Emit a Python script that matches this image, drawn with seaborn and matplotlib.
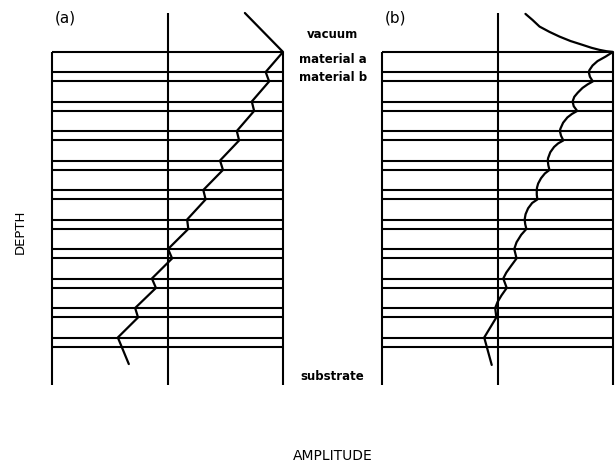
import matplotlib
matplotlib.use("Agg")
import matplotlib.pyplot as plt
import seaborn as sns
import pandas as pd

# Layer boundaries (depth in units of the bilayer period, surface at 0)
interfaces = [0.0, 0.68, 1.0, 1.68, 2.0, 2.68, 3.0, 3.68, 4.0, 4.68, 5.0,
              5.68, 6.0, 6.68, 7.0, 7.68, 8.0, 8.68, 9.0, 9.68, 10.0]

# (a) field amplitude, straight segments within each layer
depth_a = [-1.32, 0.0, 0.68, 1.0, 1.68, 2.0, 2.68, 3.0, 3.68, 4.0, 4.68, 5.0,
           5.68, 6.0, 6.68, 7.0, 7.68, 8.0, 8.68, 9.0, 9.68, 10.58]
amp_a = [0.67, 1.0, 0.85, 0.88, 0.73, 0.75, 0.60, 0.62, 0.455, 0.48, 0.31, 0.33,
         0.17, 0.18, 0.005, 0.04, -0.135, -0.10, -0.28, -0.255, -0.43, -0.335]

# (b) field amplitude, curved within each layer
depth_b = [-1.29, -1.085, -0.86, -0.68, -0.52, -0.37, -0.24, -0.14, -0.07, -0.024, 0.0,
           0.16, 0.31, 0.46, 0.61, 0.68, 0.84, 1.0,
           1.1, 1.22, 1.38, 1.52, 1.68, 1.84, 2.0,
           2.1, 2.22, 2.4, 2.6, 2.68, 2.84, 3.0,
           3.1, 3.22, 3.4, 3.6, 3.68, 3.84, 4.0,
           4.12, 4.28, 4.46, 4.6, 4.68, 4.84, 5.0,
           5.12, 5.3, 5.5, 5.68, 5.84, 6.0,
           6.2, 6.45, 6.68, 7.0,
           7.25, 7.48, 7.68, 8.0,
           8.25, 8.48, 8.68, 9.0,
           9.68, 10.61]
amp_b = [0.242, 0.303, 0.364, 0.45, 0.537, 0.632, 0.736, 0.814, 0.883, 0.944, 1.0,
         0.935, 0.866, 0.823, 0.797, 0.79, 0.80, 0.825,
         0.78, 0.736, 0.695, 0.665, 0.65, 0.66, 0.69,
         0.645, 0.605, 0.568, 0.545, 0.54, 0.55, 0.57,
         0.525, 0.49, 0.457, 0.438, 0.435, 0.44, 0.45,
         0.41, 0.377, 0.352, 0.342, 0.34, 0.34, 0.345,
         0.30, 0.265, 0.243, 0.235, 0.24, 0.25,
         0.205, 0.165, 0.145, 0.165,
         0.118, 0.076, 0.05, 0.08,
         0.035, 0.0, -0.02, -0.01,
         -0.115, -0.05]

panel_labels = ["(a)", "(b)"]
layer_labels = ["vacuum", "material a", "material b", "substrate"]
layer_label_depths = [-0.58, 0.27, 0.86, 11.0]

depth_top, depth_bottom = -1.32, 11.29

sns.set_style("white")
plt.rcParams["font.family"] = ["DejaVu Sans"]
plt.rcParams["text.color"] = "black"

W, H = 616, 466
fig = plt.figure(figsize=(W / 100, H / 100), dpi=100)

def frac_box(x0, x1, y0, y1):
    return [x0 / W, 1 - y1 / H, (x1 - x0) / W, (y1 - y0) / H]

ax_a = fig.add_axes(frac_box(52, 283, 13, 385))
ax_b = fig.add_axes(frac_box(382, 613, 13, 385))

lw = 1.5
for ax, depth, amp, lab in [(ax_a, depth_a, amp_a, panel_labels[0]),
                            (ax_b, depth_b, amp_b, panel_labels[1])]:
    ax.hlines(interfaces, -1, 1, color="black", lw=lw, clip_on=False)
    ax.vlines([-1, 1], 0, depth_bottom, color="black", lw=lw, clip_on=False)
    ax.vlines([0], depth_top, depth_bottom, color="black", lw=lw, clip_on=False)
    df = pd.DataFrame({"amplitude": amp, "depth": depth})
    sns.lineplot(data=df, x="amplitude", y="depth", sort=False, estimator=None,
                 color="black", lw=1.6, ax=ax, clip_on=False)
    ax.set_xlim(-1, 1)
    ax.set_ylim(depth_bottom, depth_top)
    ax.axis("off")
    ax.text(-0.98, -1.15, lab, fontsize=11, ha="left", va="center",
            color="black")

# Layer names between the two panels
for name, d in zip(layer_labels, layer_label_depths):
    ax_a.text(1.43, d, name, fontsize=8.5, fontweight="bold", color="black",
              ha="center", va="center", clip_on=False)

fig.text(20 / W, 1 - 232 / H, "DEPTH", rotation=90, fontsize=9.5,
         ha="center", va="center", color="black")
fig.text(333 / W, 1 - 456 / H, "AMPLITUDE", fontsize=10,
         ha="center", va="center", color="black")

fig.savefig("out.png", dpi=100)
